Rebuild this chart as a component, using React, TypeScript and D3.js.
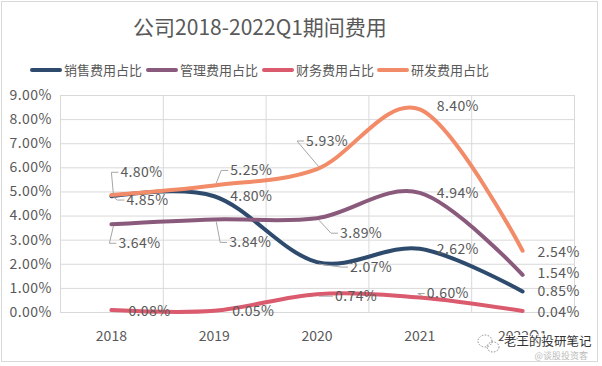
import React, { useEffect, useRef } from 'react';
import * as d3 from 'd3';

const categories = ['2018', '2019', '2020', '2021', '2022Q1'];
const seriesNames = ['销售费用占比', '管理费用占比', '财务费用占比', '研发费用占比'];
const salesRatio = [4.8, 4.8, 2.07, 2.62, 0.85];
const adminRatio = [3.64, 3.84, 3.89, 4.94, 1.54];
const financeRatio = [0.08, 0.05, 0.74, 0.6, 0.04];
const rdRatio = [4.85, 5.25, 5.93, 8.4, 2.54];
const yTicks = [0, 1, 2, 3, 4, 5, 6, 7, 8, 9];

const colors = ['#2E4B6D', '#8A5A7C', '#DA5A6E', '#F28B68'];

// label placement relative to the point: [dx, dy, leader]
const labelOffsets: [number, number, boolean][][] = [
  [[9, -24, true], [16, 0, false], [33, 5, true], [17, 0, false], [15, 0, false]],
  [[7, 19, true], [15, 23, true], [23, 15, true], [17, 0, false], [15, -2, false]],
  [[17, 1, false], [18, 0, false], [18, 2, true], [7, -4, true], [15, 1, false]],
  [[15, 5, true], [16, -15, true], [-11, -28, true], [17, -3, false], [15, 1, false]],
];

const FONT = '"Noto Sans CJK SC", "Noto Sans", sans-serif';

export default function App() {
  const svgRef = useRef<SVGSVGElement>(null);

  useEffect(() => {
    document.body.style.margin = '0';
    if (!svgRef.current) return;
    const svg = d3.select(svgRef.current);
    svg.selectAll('*').remove();

    const width = 602;
    const height = 366;
    const margin = { top: 95, right: 28, bottom: 54, left: 60 };

    svg.attr('width', width).attr('height', height);

    svg
      .append('rect')
      .attr('x', 1.5)
      .attr('y', 1.5)
      .attr('width', 596)
      .attr('height', 360)
      .attr('fill', '#fff')
      .attr('stroke', '#d9d9d9');

    const x = d3
      .scalePoint()
      .domain(categories)
      .range([margin.left, width - margin.right])
      .padding(0.5);

    const y = d3
      .scaleLinear()
      .domain([0, 9])
      .range([height - margin.bottom, margin.top]);

    const step = x.step();

    // gridlines
    const grid = svg.append('g');
    grid
      .selectAll('.hgrid')
      .data(yTicks)
      .enter()
      .append('line')
      .attr('x1', margin.left)
      .attr('x2', width - margin.right)
      .attr('y1', (d) => y(d) + 0.5)
      .attr('y2', (d) => y(d) + 0.5)
      .attr('stroke', '#d9d9d9');

    grid
      .selectAll('.vgrid')
      .data(categories)
      .enter()
      .append('line')
      .attr('x1', (d) => (x(d) || 0) - step / 2 + 0.5)
      .attr('x2', (d) => (x(d) || 0) - step / 2 + 0.5)
      .attr('y1', margin.top)
      .attr('y2', height - margin.bottom)
      .attr('stroke', '#d9d9d9');
    grid
      .append('line')
      .attr('x1', width - margin.right + 0.5)
      .attr('x2', width - margin.right + 0.5)
      .attr('y1', margin.top)
      .attr('y2', height - margin.bottom)
      .attr('stroke', '#d9d9d9');

    // y axis labels
    svg
      .append('g')
      .selectAll('text')
      .data(yTicks)
      .enter()
      .append('text')
      .attr('x', 52)
      .attr('y', (d) => y(d))
      .attr('dy', '0.35em')
      .attr('text-anchor', 'end')
      .style('font-family', FONT)
      .style('font-size', '14px')
      .style('letter-spacing', '0.5px')
      .style('fill', '#595959')
      .text((d) => d3.format('.2f')(d) + '%');

    // x axis labels
    svg
      .append('g')
      .selectAll('text')
      .data(categories)
      .enter()
      .append('text')
      .attr('x', (d) => x(d) || 0)
      .attr('y', height - margin.bottom + 24)
      .attr('dy', '0.35em')
      .attr('text-anchor', 'middle')
      .style('font-family', FONT)
      .style('font-size', '14px')
      .style('fill', '#595959')
      .text((d) => d);

    const allSeries = [salesRatio, adminRatio, financeRatio, rdRatio];

    const line = d3
      .line<number>()
      .x((_, i) => x(categories[i]) || 0)
      .y((d) => y(d))
      .curve(d3.curveCardinal.tension(0));

    allSeries.forEach((values, s) => {
      svg
        .append('path')
        .datum(values)
        .attr('d', line)
        .attr('fill', 'none')
        .attr('stroke', colors[s])
        .attr('stroke-width', 4)
        .attr('stroke-linecap', 'round');
    });

    // data labels
    allSeries.forEach((values, s) => {
      values.forEach((v, i) => {
        const px = x(categories[i]) || 0;
        const py = y(v);
        const [dx, dy, leader] = labelOffsets[s][i];
        const lx = px + dx;
        const ly = py + dy;
        if (leader) {
          svg
            .append('polyline')
            .attr('points', `${px + 2},${py + Math.sign(dy) * 2} ${lx - 9},${ly} ${lx - 2},${ly}`)
            .attr('fill', 'none')
            .attr('stroke', '#a6a6a6')
            .attr('stroke-width', 1);
        }
        svg
          .append('text')
          .attr('x', lx)
          .attr('y', ly)
          .attr('dy', '0.35em')
          .style('font-family', FONT)
          .style('font-size', '14px')
          .style('letter-spacing', '0.4px')
          .style('fill', '#595959')
          .text(d3.format('.2f')(v) + '%');
      });
    });

    // title
    svg
      .append('text')
      .attr('x', 260)
      .attr('y', 28)
      .attr('dy', '0.35em')
      .attr('text-anchor', 'middle')
      .style('font-family', FONT)
      .style('font-size', '21px')
      .style('fill', '#595959')
      .text('公司2018-2022Q1期间费用');

    // legend
    const legendX = [30, 146, 262, 377];
    const legend = svg
      .append('g')
      .selectAll('g')
      .data(seriesNames)
      .enter()
      .append('g')
      .attr('transform', (_, i) => `translate(${legendX[i]},70)`);
    legend
      .append('line')
      .attr('x1', 2)
      .attr('x2', 30)
      .attr('stroke', (_, i) => colors[i])
      .attr('stroke-width', 4)
      .attr('stroke-linecap', 'round');
    legend
      .append('text')
      .attr('x', 34)
      .attr('dy', '0.35em')
      .style('font-family', FONT)
      .style('font-size', '13px')
      .style('fill', '#595959')
      .text((d) => d);

    // watermark
    const wm = svg.append('g');
    wm.append('ellipse')
      .attr('cx', 485)
      .attr('cy', 341)
      .attr('rx', 7)
      .attr('ry', 6)
      .attr('fill', 'none')
      .attr('stroke', '#888')
      .attr('stroke-dasharray', '1.5,1.5');
    wm.append('ellipse')
      .attr('cx', 493)
      .attr('cy', 347)
      .attr('rx', 6)
      .attr('ry', 5)
      .attr('fill', 'none')
      .attr('stroke', '#888')
      .attr('stroke-dasharray', '1.5,1.5');
    wm.append('text')
      .attr('x', 504)
      .attr('y', 342)
      .attr('dy', '0.35em')
      .style('font-family', FONT)
      .style('font-size', '12.5px')
      .style('fill', '#333')
      .style('stroke', '#fff')
      .style('stroke-width', 2)
      .style('paint-order', 'stroke')
      .text('老王的投研笔记');
    wm.append('text')
      .attr('x', 588)
      .attr('y', 356)
      .attr('dy', '0.35em')
      .attr('text-anchor', 'end')
      .style('font-family', FONT)
      .style('font-size', '9px')
      .style('fill', '#bbb')
      .text('@谈股投资客');
  }, []);

  return <svg ref={svgRef} style={{ display: 'block' }}></svg>;
}
